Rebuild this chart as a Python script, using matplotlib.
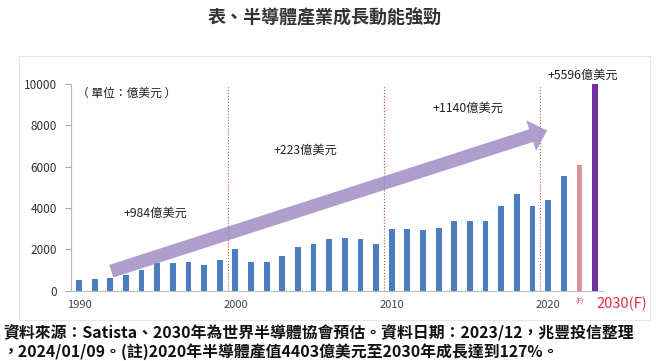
import matplotlib
matplotlib.use("Agg")
import matplotlib.pyplot as plt
from matplotlib.patches import FancyArrowPatch, Rectangle
import matplotlib.transforms as mtransforms

plt.rcParams['font.family'] = ['Noto Sans CJK TC', 'DejaVu Sans']

# Data (億美元)
years = list(range(1990, 2022))
values = [505, 545, 596, 770, 1010, 1350, 1340, 1380, 1260, 1470,
          2040, 1390, 1400, 1660, 2130, 2280, 2480, 2550, 2480, 2260,
          2980, 3000, 2920, 3050, 3360, 3350, 3390, 4120, 4690, 4120,
          4403, 5560]
forecast_value = 6100
value_2030 = 10000

tick_years = [1990, 2000, 2010, 2020]
tick_labels = ["1990", "2000", "2010", "2020"]
divider_years = [1999.5, 2009.5, 2019.5]
growth_labels = ["+984億美元", "+223億美元", "+1140億美元", "+5596億美元"]
growth_pos = [(1994.9, 3750), (2004.5, 6800), (2014.9, 8850), (2022.2, 10450)]

fig = plt.figure(figsize=(6.56, 3.61), dpi=100)
ax = fig.add_axes([0.108, 0.195, 0.811, 0.5717])

# light frame around the chart panel
fig.patches.append(Rectangle((0.029, 0.114), 0.962, 0.731, transform=fig.transFigure,
                             fill=False, edgecolor="#E6E6E6", linewidth=0.8))

x = [y - 1990 for y in years]
ax.bar(x, values, width=0.37, color="#4A7EC0", zorder=2)
ax.bar([len(years)], [forecast_value], width=0.37, color="#D99594", zorder=2)
ax.bar([len(years) + 1], [value_2030], width=0.37, color="#7030A0", zorder=2)

for d in divider_years:
    ax.plot([d - 1990, d - 1990], [0, 9900], linestyle=":", color="#C0504D",
            linewidth=0.8, zorder=1)

# big trend arrow
arrow = FancyArrowPatch((1.9, 900), (30.1, 7800),
                        arrowstyle="simple,head_length=12,head_width=23,tail_width=9.5",
                        mutation_scale=1, color="#9A86C0", alpha=0.8,
                        linewidth=0, zorder=3)
ax.add_patch(arrow)

for lab, (gx, gy) in zip(growth_labels, growth_pos):
    ax.text(gx - 1990, gy, lab, ha="center", va="center", fontsize=8.8,
            color="#222222", clip_on=False)

ax.text(-0.1, 9550, "（ 單位：億美元 ）", ha="left", va="center", fontsize=8.5,
        color="#222222")

ax.set_xlim(-0.52, len(years) + 1.5)
ax.set_ylim(0, 10000)
ax.set_yticks(range(0, 10001, 2000))
ax.set_yticklabels([str(v) for v in range(0, 10001, 2000)], fontsize=8.5, color="#333333")
ax.set_xticks([t - 1990 for t in tick_years])
ax.set_xticklabels(tick_labels, fontsize=8, color="#444444")
ax.tick_params(axis="x", length=0, pad=7)
ax.tick_params(axis="y", length=4, color="#AAAAAA", pad=6)

for s in ["top", "right"]:
    ax.spines[s].set_visible(False)
for s in ["left", "bottom"]:
    ax.spines[s].set_color("#BBBBBB")
    ax.spines[s].set_linewidth(0.8)

trans = mtransforms.blended_transform_factory(ax.transData, ax.transAxes)
ax.text(len(years), -0.035, "(F)", transform=trans, ha="center", va="top",
        fontsize=5, color="#E0303F")
ax.text(34.7, -0.03, "2030(F)", transform=trans, ha="center", va="top",
        fontsize=10.5, color="#E0303F", clip_on=False)

fig.text(0.495, 0.95, "表、半導體產業成長動能強勁", ha="center", va="center",
         fontsize=13, fontweight="bold", color="#333333")

fig.text(0.005, 0.078, "資料來源：Satista、2030年為世界半導體協會預估。資料日期：2023/12，兆豐投信整理",
         ha="left", va="center", fontsize=11.4, fontweight="bold", color="#111111")
fig.text(0.005, 0.025, "，2024/01/09。(註)2020年半導體產值4403億美元至2030年成長達到127%。",
         ha="left", va="center", fontsize=11.4, fontweight="bold", color="#111111")

fig.savefig("out.png", dpi=100)
